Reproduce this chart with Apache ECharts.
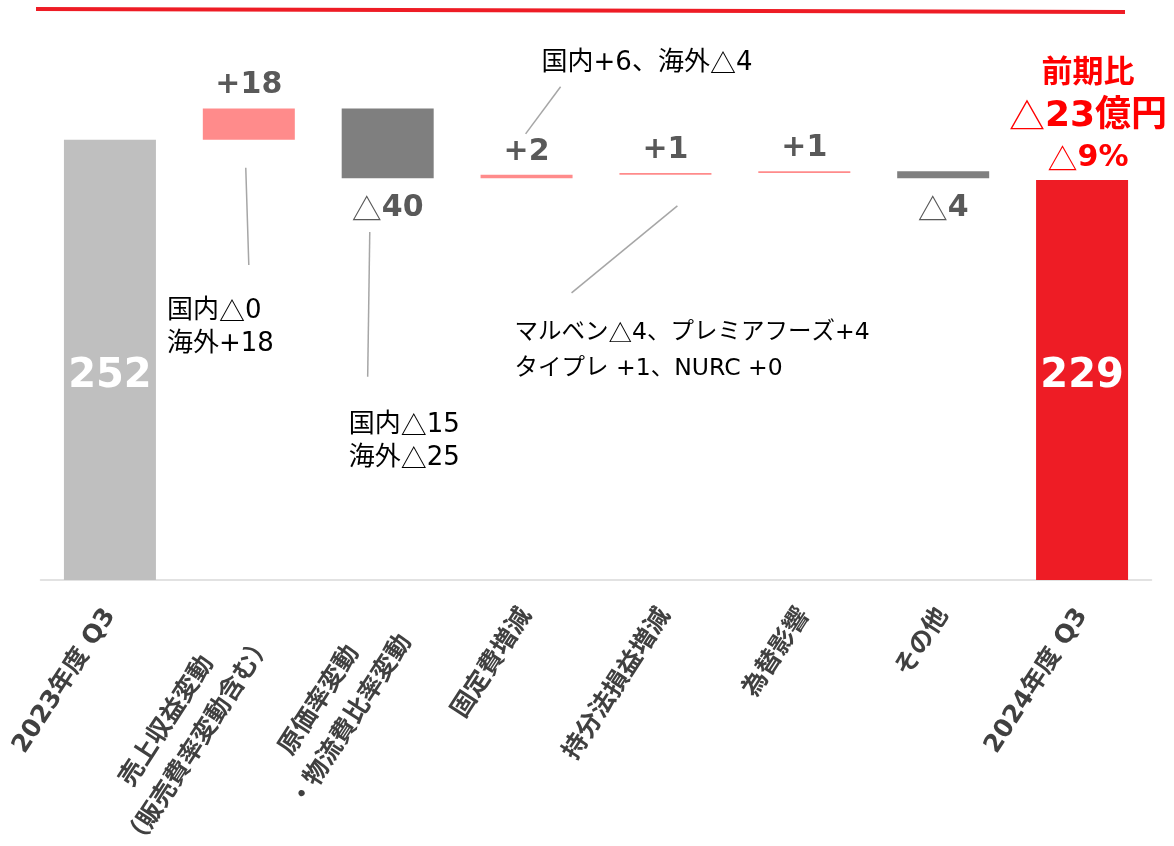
<!DOCTYPE html>
<html><head><meta charset="utf-8">
<script src="https://cdn.jsdelivr.net/npm/echarts@6/dist/echarts.min.js"></script>
<style>html,body{margin:0;padding:0;background:#fff}#c{width:1174px;height:846px}</style>
</head><body><div id="c"></div>
<script>
// ---- data ----
const categories = ['2023年度 Q3', '売上収益変動\n（販売費率変動含む）', '原価率変動\n・物流費比率変動', '固定費増減', '持分法損益増減', '為替影響', 'その他', '2024年度 Q3'];
const changes = [252, 18, -40, 2, 1, 1, -4, 229];
const valueLabels = ['252', '+18', '△40', '+2', '+1', '+1', '△4', '229'];
const noteLines = [
  ['国内△0', '海外+18'],
  ['国内△15', '海外△25'],
  ['国内+6、海外△4'],
  ['マルベン△4、プレミアフーズ+4', 'タイプレ +1、NURC +0']
];
// anchors in (category index, value) units
const noteAnchors = [[0.41, 144.6], [1.719, 79.3], [3.108, 295.8], [2.914, 131.2]];
const leaderLines = [
  [[0.978, 236.0], [1.0, 180.4]],
  [[1.871, 199.3], [1.856, 116.3]],
  [[2.993, 255.4], [3.245, 282.4]],
  [[4.086, 214.2], [3.324, 164.4]]
];
const headline = ['前期比', '△23億円', '△9%'];
const headlineAnchor = [7.043, 265.5];

// ---- derived waterfall ----
const base = [], height = [];
let run = 0;
changes.forEach((d, i) => {
  if (i === 0 || i === changes.length - 1) { base.push(0); height.push(d); run = d; }
  else { const next = run + d; base.push(Math.min(run, next)); height.push(Math.abs(d)); run = next; }
});

const NUM_FONT = "'DejaVu Sans', 'Noto Sans CJK JP', sans-serif";
const JP_FONT = "'DejaVu Sans', 'Noto Sans CJK JP', sans-serif";
const CJK_FONT = "'Noto Sans CJK JP', sans-serif";

function labelText(s) {
  if (s.startsWith('△')) return '{t|△}{n|' + s.slice(1) + '}';
  return '{n|' + s + '}';
}
function noteRich(line) {
  return line.split('△').map(s => s ? '{r|' + s + '}' : '').join('{t|△}');
}

const barData = height.map((h, i) => {
  const last = changes.length - 1;
  let color, label;
  if (i === 0 || i === last) {
    color = i === 0 ? '#bfbfbf' : '#ee1c25';
    label = { show: true, position: 'insideBottom', distance: 183, formatter: valueLabels[i],
      color: '#ffffff', fontSize: 40, fontWeight: 'bold', fontFamily: NUM_FONT };
  } else if (changes[i] >= 0) {
    color = '#ff8b8b';
    label = { show: true, position: 'top', distance: 8, formatter: labelText(valueLabels[i]) };
  } else {
    color = '#7f7f7f';
    label = { show: true, position: 'bottom', distance: 15, formatter: labelText(valueLabels[i]) };
  }
  return { value: h, itemStyle: { color }, label };
});

const chart = echarts.init(document.getElementById('c'));
const option = {
  animation: false,
  backgroundColor: '#ffffff',
  grid: { left: 40.5, right: 22.5, top: 56, bottom: 266, containLabel: false, outerBoundsMode: 'none' },
  xAxis: {
    type: 'category',
    data: categories.map(c => c.indexOf('\n') >= 0 ? { value: c, textStyle: { padding: [22, 12, 0, 0] } } : c),
    axisLine: { lineStyle: { color: '#d9d9d9', width: 1.5 } },
    axisTick: { show: false },
    axisLabel: {
      interval: 0, rotate: 57, margin: 31, hideOverlap: false,
      formatter: v => v.split('\n').map(s => '{c|' + s + '}').join('\n'),
      rich: { c: { align: 'center', fontSize: 25, fontWeight: 'bold', color: '#404040', fontFamily: JP_FONT, lineHeight: 38 } }
    }
  },
  yAxis: { type: 'value', min: 0, max: 300, show: false, splitLine: { show: false } },
  series: [
    { type: 'bar', stack: 'w', data: base, barWidth: 92, itemStyle: { color: 'transparent' }, silent: true },
    { type: 'bar', stack: 'w', data: barData, barWidth: 92,
      label: { rich: {
        n: { fontSize: 30, fontWeight: 'bold', color: '#595959', fontFamily: NUM_FONT },
        t: { fontSize: 30, fontWeight: 'normal', color: '#595959', fontFamily: CJK_FONT }
      } } }
  ]
};
chart.setOption(option);

function toPx(p) {
  const x0 = chart.convertToPixel({ xAxisIndex: 0 }, 0);
  const x1 = chart.convertToPixel({ xAxisIndex: 0 }, 1);
  return [x0 + p[0] * (x1 - x0), chart.convertToPixel({ yAxisIndex: 0 }, p[1])];
}

const graphics = [];
// slide header rule
graphics.push({ type: 'line', shape: { x1: 36, y1: 9, x2: 1125, y2: 12 }, style: { stroke: '#ee1c25', lineWidth: 4 } });
leaderLines.forEach(l => {
  const a = toPx(l[0]), b = toPx(l[1]);
  graphics.push({ type: 'line', shape: { x1: a[0], y1: a[1], x2: b[0], y2: b[1] }, style: { stroke: '#a6a6a6', lineWidth: 1.5 } });
});
noteLines.forEach((lines, i) => {
  const p = toPx(noteAnchors[i]);
  const fs = i === 3 ? 23.5 : 26;
  const lh = i === 3 ? 36 : 33;
  graphics.push({ type: 'text', x: p[0], y: p[1], style: {
    text: lines.map(noteRich).join('\n'), align: 'left', verticalAlign: 'middle',
    rich: {
      r: { fill: '#000000', fontSize: fs, fontFamily: JP_FONT, lineHeight: lh },
      t: { fill: '#000000', fontSize: fs, fontFamily: CJK_FONT, lineHeight: lh }
    } } });
});
{
  const p = toPx(headlineAnchor);
  graphics.push({ type: 'text', x: p[0], y: p[1], style: {
    text: '{a|' + headline[0] + '}\n{tb|△}{b|' + headline[1].slice(1) + '}\n{tc|△}{c|' + headline[2].slice(1) + '}',
    align: 'center', verticalAlign: 'middle',
    rich: {
      a: { fontSize: 31, fontWeight: 'bold', fill: '#ff0000', fontFamily: JP_FONT, lineHeight: 42 },
      tb: { fontSize: 36, fontWeight: 'normal', fill: '#ff0000', fontFamily: CJK_FONT, lineHeight: 42 },
      b: { fontSize: 36, fontWeight: 'bold', fill: '#ff0000', fontFamily: JP_FONT, lineHeight: 42 },
      tc: { fontSize: 30, fontWeight: 'normal', fill: '#ff0000', fontFamily: CJK_FONT, lineHeight: 42 },
      c: { fontSize: 30, fontWeight: 'bold', fill: '#ff0000', fontFamily: JP_FONT, lineHeight: 42 }
    } } });
}
chart.setOption({ graphic: graphics });
</script></body></html>
